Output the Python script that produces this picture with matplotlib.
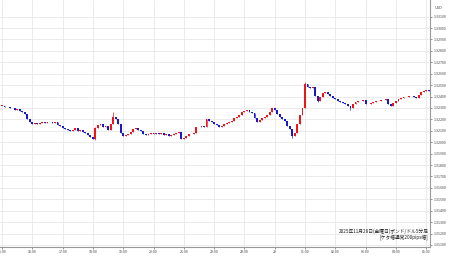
import numpy as np
import matplotlib
matplotlib.use("Agg")
import matplotlib.pyplot as plt
from matplotlib.patches import Rectangle

plt.rcParams["font.family"] = ["Noto Sans CJK JP", "DejaVu Sans"]

# 5-minute GBP/USD closes, 14:55 (28th) -> 05:00 (29th)
closes = [
    1.32318, 1.32318, 1.32309, 1.32305, 1.32300, 1.32302, 1.32283, 1.32292, 1.32274, 1.32265,
    1.32248, 1.32204, 1.32178, 1.32160, 1.32169, 1.32160, 1.32169, 1.32178, 1.32169, 1.32178,
    1.32175, 1.32169, 1.32178, 1.32152, 1.32143, 1.32125, 1.32117, 1.32108, 1.32099, 1.32108,
    1.32125, 1.32099, 1.32108, 1.32090, 1.32082, 1.32064, 1.32047, 1.32029, 1.32125, 1.32152,
    1.32160, 1.32134, 1.32143, 1.32108, 1.32160, 1.32222, 1.32204, 1.32160, 1.32082, 1.32055,
    1.32064, 1.32073, 1.32090, 1.32117, 1.32125, 1.32108, 1.32099, 1.32073, 1.32064, 1.32073,
    1.32082, 1.32073, 1.32082, 1.32073, 1.32082, 1.32064, 1.32073, 1.32055, 1.32064, 1.32073,
    1.32082, 1.32090, 1.32029, 1.32038, 1.32055, 1.32073, 1.32070, 1.32082, 1.32134, 1.32130,
    1.32143, 1.32134, 1.32204, 1.32187, 1.32178, 1.32160, 1.32152, 1.32134, 1.32143, 1.32160,
    1.32169, 1.32178, 1.32187, 1.32213, 1.32222, 1.32239, 1.32265, 1.32274, 1.32283, 1.32265,
    1.32257, 1.32213, 1.32178, 1.32195, 1.32213, 1.32222, 1.32239, 1.32265, 1.32300, 1.32283,
    1.32248, 1.32222, 1.32204, 1.32187, 1.32143, 1.32117, 1.32055, 1.32082, 1.32160, 1.32239,
    1.32300, 1.32510, 1.32484, 1.32475, 1.32484, 1.32405, 1.32362, 1.32397, 1.32432, 1.32440,
    1.32423, 1.32405, 1.32388, 1.32379, 1.32362, 1.32353, 1.32344, 1.32335, 1.32318, 1.32300,
    1.32335, 1.32353, 1.32362, 1.32358, 1.32370, 1.32335, 1.32332, 1.32344, 1.32353, 1.32362,
    1.32360, 1.32370, 1.32368, 1.32379, 1.32335, 1.32318, 1.32344, 1.32362, 1.32379, 1.32388,
    1.32397, 1.32395, 1.32405, 1.32403, 1.32397, 1.32388, 1.32414, 1.32440, 1.32449, 1.32458,
    1.32449,
]
first_open = 1.32325

# visible wicks (candle index -> extreme)
wick_idx = [37, 44, 115, 120, 125, 138]
wick_hi  = [1.32134, 1.32265, 1.32082, 1.32528, 1.32405, 1.32318]
wick_lo  = [1.32020, 1.32204, 1.32038, 1.32300, 1.32353, 1.32283]

hour_labels = ["15:00", "16:00", "17:00", "18:00", "19:00", "20:00", "21:00", "22:00",
               "23:00", "29", "01:00", "02:00", "03:00", "04:00", "05:00"]
price_ticks = [1.311 + 0.001 * k for k in range(21)]

title_line1 = "2025年11月28日(金曜日)ポンド/ドル5分足"
title_line2 = "[ケタ幅通常200pips幅]"

RED  = "#ee1418"
BLUE = "#1818cc"

c = np.array(closes)
o = np.r_[first_open, c[:-1]]
idx = np.arange(len(c)) - 1          # index 0 == 15:00
hi = np.maximum(o, c)
lo = np.minimum(o, c)
for k, h, l in zip(wick_idx, wick_hi, wick_lo):
    hi[k + 1] = max(hi[k + 1], h)
    lo[k + 1] = min(lo[k + 1], l)

fig = plt.figure(figsize=(4.5, 2.58), dpi=100)
ax = fig.add_axes([0.0, 0.0426, 0.9556, 0.9574])

ax.set_xlim(-0.79, 169.5)
ax.set_ylim(1.31082, 1.33246)

up = c >= o
cols = np.where(up, RED, BLUE)
body = np.maximum(np.abs(c - o), 0.00004)
ax.vlines(idx, lo, hi, colors=cols, lw=0.5, zorder=3)
ax.bar(idx, body, bottom=np.minimum(o, c), width=0.75, color=cols, lw=0, zorder=4)

# grid
ax.set_xticks(np.arange(len(hour_labels)) * 12)
ax.set_xticklabels(hour_labels)
ax.set_yticks(price_ticks)
ax.set_yticklabels([f"{p:.5f}" for p in price_ticks])
ax.grid(True, color="#e8e8e8", lw=0.6, zorder=0)
ax.set_axisbelow(True)

ax.yaxis.tick_right()
ax.tick_params(axis="y", labelsize=2.6, length=1.2, width=0.4, pad=1.2, colors="#444444")
ax.tick_params(axis="x", labelsize=2.6, length=1.2, width=0.4, pad=1.2, colors="#444444")
for s in ("top", "left"):
    ax.spines[s].set_visible(False)
for s in ("right", "bottom"):
    ax.spines[s].set_color("#999999")
    ax.spines[s].set_linewidth(0.8)

clip = Rectangle((0, 0), 0.9556, 1, transform=fig.transFigure)
for lab in ax.get_xticklabels():
    lab.set_clip_path(clip)

fig.text(0.965, 0.978, "USD", fontsize=2.8, color="#444444", va="top", ha="left")

ax.text(0.997, 0.052, title_line1, transform=ax.transAxes, ha="right", va="bottom",
        fontsize=3.4, color="#222222", zorder=6)
ax.text(0.997, 0.030, title_line2, transform=ax.transAxes, ha="right", va="bottom",
        fontsize=3.4, color="#222222", zorder=6)

fig.savefig("out.png", dpi=100)
